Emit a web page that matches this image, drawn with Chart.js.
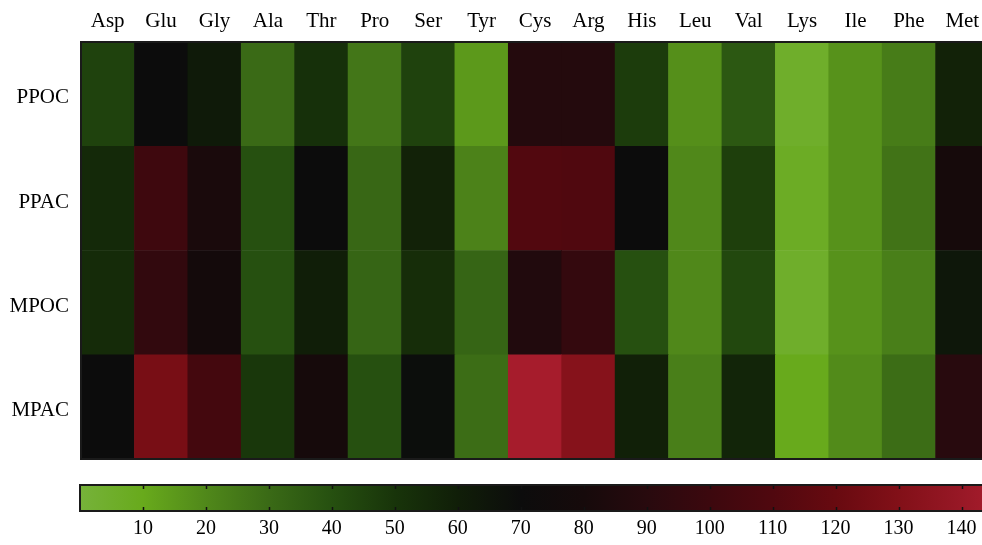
<!DOCTYPE html>
<html>
<head>
<meta charset="utf-8">
<script src="https://cdn.jsdelivr.net/npm/chart.js@4.4.1/dist/chart.umd.min.js"></script>
<style>
  html, body { margin: 0; padding: 0; background: #fff; overflow: hidden; }
  #wrap { width: 995px; }
  .box { position: relative; width: 995px; }
</style>
</head>
<body>
<div id="wrap">
  <div class="box" style="height:470px"><canvas id="heat"></canvas></div>
  <div class="box" style="height:75px"><canvas id="bar"></canvas></div>
</div>
<script>
const aminoAcids = ['Asp', 'Glu', 'Gly', 'Ala', 'Thr', 'Pro', 'Ser', 'Tyr', 'Cys', 'Arg', 'His', 'Leu', 'Val', 'Lys', 'Ile', 'Phe', 'Met'];
const rowNames = ['PPOC', 'PPAC', 'MPOC', 'MPAC'];

const ppoc = [45, 70, 62, 30, 52, 26, 45, 15, 88, 88, 47, 18, 37, 5, 17, 24, 58];
const ppac = [55, 101, 82, 40, 70, 31, 58, 22, 111, 110, 70, 20, 46, 7, 17, 27, 80];
const mpoc = [54, 95, 78, 40, 60, 32, 53, 32, 86, 96, 40, 20, 43, 5, 17, 23, 64];
const mpac = [70, 126, 104, 49, 80, 40, 69, 29, 145, 132, 59, 23, 57, 10, 19, 29, 90];

const colorbarTicks = [10, 20, 30, 40, 50, 60, 70, 80, 90, 100, 110, 120, 130, 140];
const scaleMin = 0;
const scaleMax = 145;

// colour map: value -> rgb
const stopValues = [0, 10, 20, 30, 40, 50, 60, 70, 80, 90, 100, 110, 120, 130, 140, 145];
const stopColors = [
  [118, 178, 58], [104, 170, 28], [80, 136, 26], [58, 106, 22], [38, 80, 16],
  [24, 52, 10], [16, 30, 8], [12, 12, 12], [22, 10, 11], [40, 10, 14],
  [60, 8, 14], [80, 8, 15], [104, 10, 16], [130, 16, 24], [152, 24, 38], [166, 28, 44]
];

function colorFor(v) {
  if (v <= stopValues[0]) return rgb(stopColors[0]);
  for (let i = 1; i < stopValues.length; i++) {
    if (v <= stopValues[i]) {
      const t = (v - stopValues[i - 1]) / (stopValues[i] - stopValues[i - 1]);
      const a = stopColors[i - 1], b = stopColors[i];
      return rgb(a.map((c, k) => c + (b[k] - c) * t));
    }
  }
  return rgb(stopColors[stopColors.length - 1]);
}

function rgb(c) {
  return `rgb(${Math.round(c[0])},${Math.round(c[1])},${Math.round(c[2])})`;
}

const serif = "'Liberation Serif', 'Times New Roman', serif";

const outline = {
  id: 'outline',
  afterDatasetsDraw(chart) {
    const { ctx, chartArea: a } = chart;
    ctx.save();
    ctx.strokeStyle = '#1a1a1a';
    ctx.lineWidth = 2;
    ctx.strokeRect(a.left, a.top, a.right - a.left, a.bottom - a.top);
    ctx.restore();
  },
};

// bottom row first so it sits at y = 0..1
const rowsBottomUp = [mpac, mpoc, ppac, ppoc];

new Chart(document.getElementById('heat'), {
  type: 'bar',
  data: {
    labels: aminoAcids,
    datasets: rowsBottomUp.map((vals, r) => ({
      data: vals.map(() => [r, r + 1]),
      backgroundColor: vals.map(colorFor),
      borderWidth: 0,
      grouped: false,
      barPercentage: 1,
      categoryPercentage: 1,
    })),
  },
  options: {
    responsive: true,
    maintainAspectRatio: false,
    animation: false,
    layout: { padding: { top: 0, right: 6, bottom: 11, left: 0 } },
    plugins: { legend: { display: false }, tooltip: { enabled: false } },
    scales: {
      x: {
        position: 'top',
        grid: { display: false, drawTicks: false },
        border: { display: false },
        ticks: { color: '#000', font: { family: serif, size: 21 }, padding: 8, maxRotation: 0, autoSkip: false },
        afterFit(s) { s.height = 42; },
      },
      y: {
        min: 0,
        max: 4,
        grid: { display: false, drawTicks: false },
        border: { display: false },
        // labels sit a little below the row middles in the original
        afterBuildTicks(s) { s.ticks = [0.465, 1.465, 2.465, 3.465].map(v => ({ value: v })); },
        ticks: {
          color: '#000',
          font: { family: serif, size: 21 },
          padding: 12,
          callback: v => rowNames[3 - Math.floor(v)],
        },
        afterFit(s) {
          s.width = 81;
          s.paddingTop = 0;
          s.paddingBottom = 0;
        },
      },
    },
  },
  plugins: [outline],
});

const innerTicks = {
  id: 'innerTicks',
  afterDatasetsDraw(chart) {
    const { ctx, chartArea: a } = chart;
    const x = chart.scales.x;
    ctx.save();
    ctx.strokeStyle = '#111';
    ctx.lineWidth = 1.5;
    colorbarTicks.forEach(t => {
      const px = Math.round(x.getPixelForValue(t)) + 0.5;
      ctx.beginPath();
      ctx.moveTo(px, a.top);
      ctx.lineTo(px, a.top + 4);
      ctx.moveTo(px, a.bottom);
      ctx.lineTo(px, a.bottom - 4);
      ctx.stroke();
    });
    ctx.strokeStyle = '#1a1a1a';
    ctx.lineWidth = 2;
    ctx.strokeRect(a.left, a.top, a.right - a.left, a.bottom - a.top);
    ctx.restore();
  },
};

new Chart(document.getElementById('bar'), {
  type: 'bar',
  data: {
    labels: [''],
    datasets: [{
      data: [[scaleMin, scaleMax]],
      backgroundColor(context) {
        const chart = context.chart;
        if (!chart.chartArea) return '#000';
        const x = chart.scales.x;
        const g = chart.ctx.createLinearGradient(x.getPixelForValue(scaleMin), 0, x.getPixelForValue(scaleMax), 0);
        stopValues.forEach(v => g.addColorStop((v - scaleMin) / (scaleMax - scaleMin), colorFor(v)));
        return g;
      },
      borderWidth: 0,
      barPercentage: 1,
      categoryPercentage: 1,
    }],
  },
  options: {
    indexAxis: 'y',
    responsive: true,
    maintainAspectRatio: false,
    animation: false,
    layout: { padding: { top: 15, right: 2, bottom: 0, left: 80 } },
    plugins: { legend: { display: false }, tooltip: { enabled: false } },
    scales: {
      x: {
        type: 'linear',
        min: scaleMin,
        max: scaleMax,
        afterBuildTicks(s) { s.ticks = colorbarTicks.map(v => ({ value: v })); },
        grid: { display: false, drawTicks: false },
        border: { display: false },
        ticks: { color: '#000', font: { family: serif, size: 20 }, padding: 6, maxRotation: 0, autoSkip: false },
        afterFit(s) { s.height = 34; },
      },
      y: { display: false },
    },
  },
  plugins: [innerTicks],
});
</script>
</body>
</html>
